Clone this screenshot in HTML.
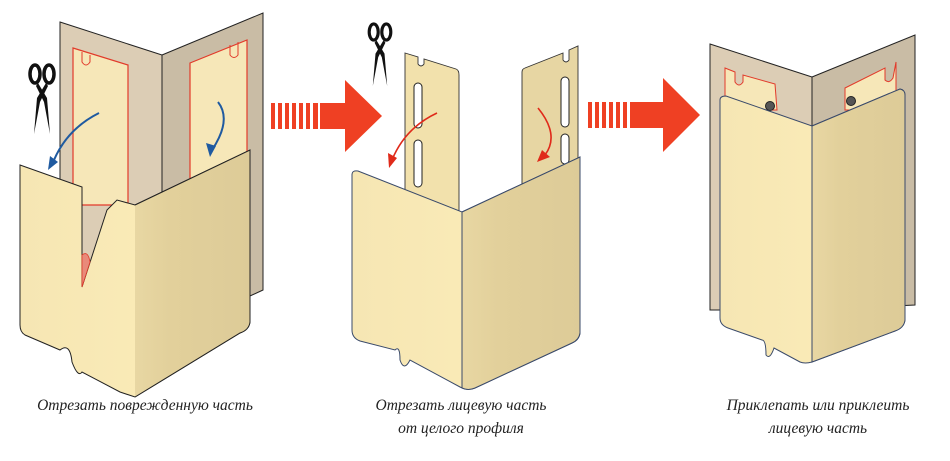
<!DOCTYPE html>
<html><head><meta charset="utf-8"><style>
html,body{margin:0;padding:0;background:#fff;width:950px;height:461px;overflow:hidden}
svg{display:block}
text{font-family:"Liberation Serif",serif;font-style:italic;font-size:15.5px;fill:#222}
</style></head><body>
<svg width="950" height="461" viewBox="0 0 950 461">
<defs>
<linearGradient id="fl" x1="0" x2="1"><stop offset="0" stop-color="#f6e6b3"/><stop offset="0.85" stop-color="#fcedb9"/><stop offset="1" stop-color="#e9d6a0"/></linearGradient>
<linearGradient id="fr" x1="0" x2="1"><stop offset="0" stop-color="#e8d7a3"/><stop offset="0.3" stop-color="#e2d09b"/><stop offset="1" stop-color="#ddcb98"/></linearGradient>
<g id="sc">
<ellipse cx="-7" cy="0" rx="5" ry="9" fill="none" stroke="#111" stroke-width="3.5"/>
<ellipse cx="7" cy="0" rx="5" ry="9" fill="none" stroke="#111" stroke-width="3.5"/>
<path d="M-4,9 L5,24 L8,60 L2,28 L-6,12 Z" fill="#111"/>
<path d="M4,9 L-5,24 L-8,60 L-2,28 L6,12 Z" fill="#111"/>
</g>
</defs>
<!-- Panel 1 wall -->
<polygon points="60,22 162,55 162,290 60,290" fill="#dccdb5" stroke="#222" stroke-width="1"/>
<polygon points="162,55 263,13 263,290 250,296 162,296" fill="#c9bca5" stroke="#222" stroke-width="1"/>
<path d="M73,48 L128,65 L128,205 L73,205 Z" fill="#f6e7b8" stroke="#e23a2a" stroke-width="1.2"/>
<path d="M82,52 L82,62 Q86,68 90,62 L90,55" fill="none" stroke="#e23a2a"/>
<path d="M190,63 L247,40 L247,190 L190,190 Z" fill="#f6e7b8" stroke="#e23a2a" stroke-width="1.2"/>
<path d="M230,45 L230,55 Q234,60 238,55 L238,42" fill="none" stroke="#e23a2a"/>
<path d="M99,113 Q65,130 52,165" fill="none" stroke="#1f5aa0" stroke-width="2"/>
<polygon points="48,170 50,156 58,162" fill="#1f5aa0"/>
<path d="M218,102 Q232,120 212,150" fill="none" stroke="#1f5aa0" stroke-width="2"/>
<polygon points="210,157 206,143 216,146" fill="#1f5aa0"/>
<!-- front piece 1 -->
<path d="M20,165 L82,187 L82,287 L107,210 L117,200 L135,205 L250,150 L250,322 Q249,330 240,333 L135,397 L120,392 L82,372 Q78,378 72,362 Q70,342 60,350 L25,335 Q20,332 20,325 Z" fill="url(#fl)" stroke="#222" stroke-width="1"/>
<path d="M135,205 L250,150 L250,322 Q249,330 240,333 L135,397 Z" fill="url(#fr)"/>
<path d="M135,205 L250,150 L250,322 Q249,330 240,333 L135,397" fill="none" stroke="#222"/>
<path d="M82,287 L82,255 Q88,250 90,262 Z" fill="#e98a7a" stroke="#e23a2a" stroke-width="0.8"/>
<!-- arrow 1 -->
<g fill="#ef4023">
<rect x="271" y="103" width="4" height="26"/><rect x="278" y="103" width="4" height="26"/><rect x="285" y="103" width="4" height="26"/><rect x="292" y="103" width="4" height="26"/><rect x="299" y="103" width="4" height="26"/><rect x="306" y="103" width="4" height="26"/><rect x="313" y="103" width="5" height="26"/>
<polygon points="320,103 345,103 345,80 382,116 345,152 345,129 320,129"/>
</g>
<!-- scissors -->
<use href="#sc" transform="translate(42,74)"/>
<use href="#sc" transform="translate(380,32) scale(0.9)"/>
<!-- Panel 2 strips -->
<path d="M405,53 L418,57 L418,64 Q421,68 424,64 L424,59 L456,69 Q459,70 459,75 L459,212 L405,212 Z" fill="#f2e1ac" stroke="#333" stroke-width="0.9"/>
<rect x="414" y="83" width="8" height="45" rx="4" fill="#fff" stroke="#222"/>
<rect x="414" y="140" width="8" height="47" rx="4" fill="#fff" stroke="#222"/>
<path d="M522,72 Q522,69 525,68 L563,53 L563,60 Q566,64 569,60 L569,50 L578,46 L578,160 L522,185 Z" fill="#e7d6a3" stroke="#333" stroke-width="0.9"/>
<rect x="561" y="77" width="8" height="50" rx="4" fill="#fff" stroke="#222"/>
<rect x="561" y="134" width="8" height="30" rx="4" fill="#fff" stroke="#222"/>
<path d="M437,113 Q405,128 392,160" fill="none" stroke="#e02a1a" stroke-width="1.6"/>
<polygon points="389,168 388,153 397,158" fill="#e02a1a"/>
<path d="M538,108 Q560,135 545,155" fill="none" stroke="#e02a1a" stroke-width="1.6"/>
<polygon points="537,162 542,150 550,157" fill="#e02a1a"/>
<!-- front piece 2 -->
<path d="M352,175 Q352,170 358,171 L462,212 L580,157 L580,333 Q579,340 572,343 L475,388 Q468,391 460,387 L410,360 Q404,372 400,360 Q400,345 395,350 L360,341 Q352,338 352,330 Z" fill="url(#fl)" stroke="#3a4a6a" stroke-width="1"/>
<path d="M462,212 L580,157 L580,333 Q579,340 572,343 L475,388 Q468,391 462,388 Z" fill="url(#fr)" stroke="#3a4a6a" stroke-width="1"/>
<!-- arrow 2 -->
<g fill="#ef4023">
<rect x="588" y="102" width="4" height="26"/><rect x="595" y="102" width="4" height="26"/><rect x="602" y="102" width="4" height="26"/><rect x="609" y="102" width="4" height="26"/><rect x="616" y="102" width="4" height="26"/><rect x="623" y="102" width="4" height="26"/>
<polygon points="630,102 663,102 663,78 700,115 663,152 663,128 630,128"/>
</g>
<!-- Panel 3 -->
<polygon points="710,44 812,77 812,310 710,310" fill="#dccdb5" stroke="#222"/>
<polygon points="812,77 915,35 915,305 812,310" fill="#c9bca5" stroke="#222"/>
<path d="M725,68 L735,72 L735,82 Q739,88 743,82 L743,75 L775,84 L777,110 L725,110 Z" fill="#f6e7b8" stroke="#e23a2a"/>
<path d="M845,88 L885,68 L885,80 Q889,84 893,78 L896,62 L896,110 L845,110 Z" fill="#f6e7b8" stroke="#e23a2a"/>
<circle cx="770" cy="106" r="4.5" fill="#555" stroke="#222"/>
<circle cx="851" cy="101" r="4.5" fill="#555" stroke="#222"/>
<path d="M720,100 Q720,96 726,96 L812,126 L900,89 Q905,90 905,95 L905,320 Q904,328 895,331 L812,362 Q805,364 800,362 L774,348 Q770,360 766,355 Q766,340 762,340 L728,328 Q720,325 720,318 Z" fill="url(#fl)" stroke="#3a4a6a"/>
<path d="M812,126 L900,89 Q905,90 905,95 L905,320 Q904,328 895,331 L812,362 Z" fill="url(#fr)" stroke="#3a4a6a"/>
<!-- captions -->
<text x="145" y="410" text-anchor="middle">Отрезать поврежденную часть</text>
<text x="461" y="410" text-anchor="middle">Отрезать лицевую часть</text>
<text x="461" y="433" text-anchor="middle">от целого профиля</text>
<text x="818" y="410" text-anchor="middle">Приклепать или приклеить</text>
<text x="818" y="433" text-anchor="middle">лицевую часть</text>
</svg>
</body></html>
